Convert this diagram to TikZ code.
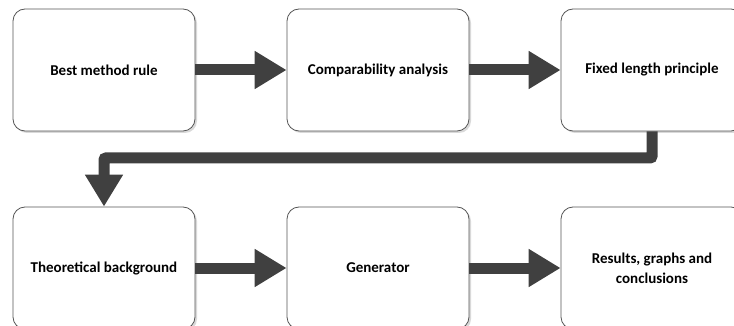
\documentclass[tikz,border=0pt]{standalone}
\usepackage{fontspec}
\setmainfont{Carlito}
\usetikzlibrary{arrows.meta,shadows}
\definecolor{arrowgray}{HTML}{404040}
\definecolor{edgegray}{HTML}{555555}
\begin{document}
\begin{tikzpicture}[x=1pt,y=-1pt,
  stepbox/.style={draw=edgegray, line width=0.8pt, fill=white, rounded corners=12pt,
    minimum width=182pt, minimum height=122pt, inner sep=0pt, align=center,
    font=\fontsize{15}{20}\selectfont\bfseries,
    drop shadow={shadow xshift=2pt, shadow yshift=-2pt, fill=gray!30, opacity=1}},
  flow/.style={draw=arrowgray, line width=11pt,
    -{Triangle[length=32pt,width=36pt,fill=arrowgray]}}]
\useasboundingbox (0,0) rectangle (734,326);
\node[stepbox] (b1) at (104,70) {Best method rule};
\node[stepbox] (b2) at (378,70) {Comparability analysis};
\node[stepbox] (b3) at (652,70) {Fixed length principle};
\node[stepbox] (b4) at (104,268) {Theoretical background};
\node[stepbox] (b5) at (378,268) {Generator};
\node[stepbox] (b6) at (652,268) {Results, graphs and\\conclusions};
\coordinate (mid) at (378,158);
\draw[flow] (b1.east) -- (b2.west);
\draw[flow] (b2.east) -- (b3.west);
\draw[flow] (b4.east) -- (b5.west);
\draw[flow] (b5.east) -- (b6.west);
\draw[flow, rounded corners=2pt] (b3.south) |- (mid) -| (b4.north);
\end{tikzpicture}
\end{document}
